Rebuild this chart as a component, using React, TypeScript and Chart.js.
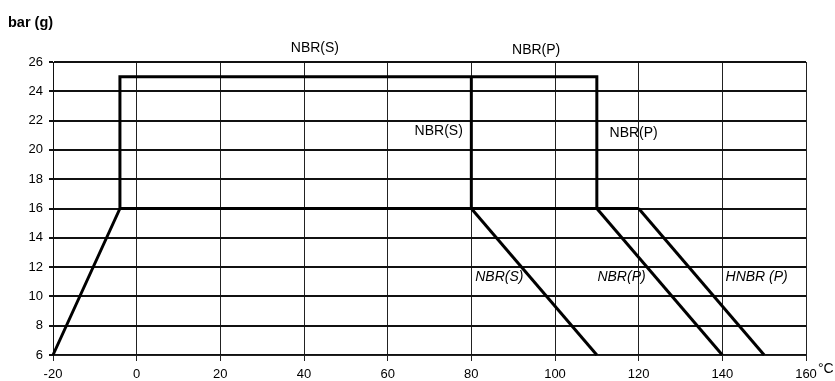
import React, { useEffect, useRef } from "react";
import { Chart, registerables } from "chart.js";

Chart.register(...registerables);

// Axis ranges / ticks
const xMin = -20;
const xMax = 160;
const xStep = 20;
const yMin = 6;
const yMax = 26;
const yStep = 2;

// Series (temperature °C, pressure bar(g))
const outlineX = [-20, -4, -4, 110, 110];
const outlineY = [6, 16, 25, 25, 16];
const baseX = [-4, 120];
const baseY = [16, 16];
const splitX = [80, 80];
const splitY = [16, 25];
const nbrSX = [80, 110];
const nbrSY = [16, 6];
const nbrPX = [110, 140];
const nbrPY = [16, 6];
const hnbrPX = [120, 150];
const hnbrPY = [16, 6];

// Text annotations (in data units)
const noteText = ["NBR(S)", "NBR(P)", "NBR(S)", "NBR(P)", "NBR(S)", "NBR(P)", "HNBR (P)"];
const noteX = [42.6, 95.5, 72.2, 118.8, 86.7, 115.9, 148.2];
const noteY = [26.95, 26.8, 21.28, 21.15, 11.34, 11.34, 11.34];
const noteItalic = [false, false, false, false, true, true, true];

const yTitle = "bar (g)";
const xUnit = "°C";

const FONT = "'Liberation Sans', Arial, sans-serif";

function toPoints(xs: number[], ys: number[]) {
  return xs.map((x, i) => ({ x, y: ys[i] }));
}

function lineSet(xs: number[], ys: number[]) {
  return {
    data: toPoints(xs, ys),
    showLine: true,
    borderColor: "#000",
    borderWidth: 3,
    pointRadius: 0,
    fill: false,
    clip: false as any,
    tension: 0,
  };
}

const textPlugin = {
  id: "texts",
  afterDraw(chart: any) {
    const { ctx, scales } = chart;
    const xs = scales.x;
    const ys = scales.y;
    ctx.save();
    ctx.fillStyle = "#000";
    ctx.textAlign = "center";
    ctx.textBaseline = "middle";
    noteText.forEach((t, i) => {
      ctx.font = `${noteItalic[i] ? "italic " : ""}14px ${FONT}`;
      ctx.fillText(t, xs.getPixelForValue(noteX[i]), ys.getPixelForValue(noteY[i]));
    });
    // y axis title
    ctx.textAlign = "left";
    ctx.font = `bold 14.5px ${FONT}`;
    ctx.fillText(yTitle, 8, 23);
    // x unit
    ctx.font = `14px ${FONT}`;
    ctx.fillText(xUnit, xs.right + 12, chart.chartArea.bottom + 14);
    ctx.restore();
  },
};

export default function App() {
  const ref = useRef<HTMLCanvasElement>(null);
  useEffect(() => {
    document.body.style.margin = "0";
    const chart = new Chart(ref.current as HTMLCanvasElement, {
      type: "scatter",
      data: {
        datasets: [
          lineSet(outlineX, outlineY),
          lineSet(baseX, baseY),
          lineSet(splitX, splitY),
          lineSet(nbrSX, nbrSY),
          lineSet(nbrPX, nbrPY),
          lineSet(hnbrPX, hnbrPY),
        ] as any,
      },
      options: {
        animation: false,
        responsive: false,
        maintainAspectRatio: false,
        layout: { padding: { left: 0, top: 62, right: 29, bottom: 0 } },
        plugins: { legend: { display: false }, tooltip: { enabled: false } },
        scales: {
          x: {
            type: "linear",
            min: xMin,
            max: xMax,
            ticks: {
              stepSize: xStep,
              color: "#000",
              font: { family: FONT, size: 13 },
              padding: 6,
              maxRotation: 0,
            },
            grid: { color: "#222", lineWidth: 1, tickLength: 6, tickColor: "#222" },
            border: { display: true, color: "#222", width: 1 },
            afterFit: (s: any) => {
              s.height = 26;
            },
          },
          y: {
            type: "linear",
            min: yMin,
            max: yMax,
            ticks: {
              stepSize: yStep,
              color: "#000",
              font: { family: FONT, size: 13 },
              padding: 6,
            },
            grid: { color: "#111", lineWidth: 2, tickLength: 4, tickColor: "#111" },
            border: { display: true, color: "#111", width: 1 },
            afterFit: (s: any) => {
              s.width = 53;
            },
          },
        },
      },
      plugins: [textPlugin],
    });
    return () => chart.destroy();
  }, []);
  return <canvas ref={ref} width={835} height={381} style={{ display: "block" }} />;
}
